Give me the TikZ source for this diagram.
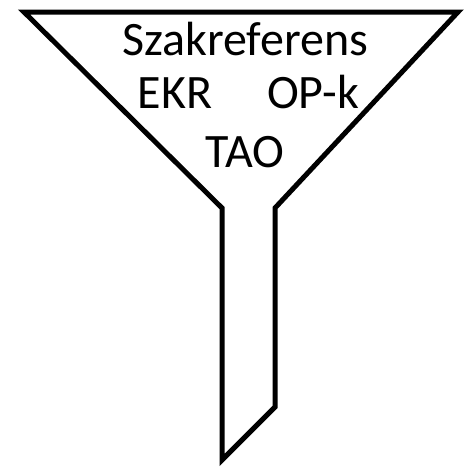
\documentclass[tikz,border=0pt]{standalone}
\usepackage{fontspec}
\setmainfont{Carlito}
\begin{document}
\begin{tikzpicture}[x=1pt,y=-1pt,
  funnel/.style={line width=5pt,line join=miter},
  lbl/.style={font=\fontsize{48}{52}\selectfont,inner sep=0pt,anchor=base}]
\useasboundingbox (0,0) rectangle (468,466);
\coordinate (tl) at (24,12);
\coordinate (tr) at (458,12);
\coordinate (jr) at (275,208);
\coordinate (br) at (275,407);
\coordinate (bl) at (222,460);
\coordinate (jl) at (222,208);
\draw[funnel] (tl) -- (tr) -- (jr) -- (br) -- (bl) -- (jl) -- cycle;
\node[lbl] (sz) at (245,55) {Szakreferens};
\node[lbl] (ekr) at (175,108) {EKR};
\node[lbl] (op) at (313,108) {OP-k};
\node[lbl] (tao) at (245,167) {TAO};
\end{tikzpicture}
\end{document}
